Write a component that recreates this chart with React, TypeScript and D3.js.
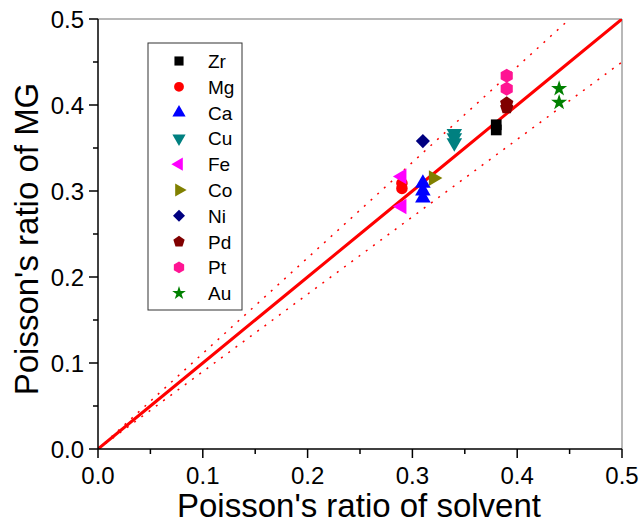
import React from "react";
import * as d3 from "d3";

// element -> [solvent ratio, MG ratio] pairs
const elements = ["Zr", "Mg", "Ca", "Cu", "Fe", "Co", "Ni", "Pd", "Pt", "Au"];
const colors = ["#000000", "#ff0000", "#0000ff", "#008080", "#ff00ff", "#808000", "#000080", "#800000", "#ff1493", "#008000"];

const zrPts = [[0.38, 0.377], [0.38, 0.371]];
const mgPts = [[0.29, 0.309], [0.29, 0.303]];
const caPts = [[0.31, 0.309], [0.31, 0.3], [0.31, 0.292]];
const cuPts = [[0.34, 0.367], [0.34, 0.362], [0.34, 0.356]];
const fePts = [[0.29, 0.317], [0.29, 0.282]];
const coPts = [[0.32, 0.315]];
const niPts = [[0.31, 0.358]];
const pdPts = [[0.39, 0.402], [0.39, 0.397]];
const ptPts = [[0.39, 0.434], [0.39, 0.419]];
const auPts = [[0.44, 0.419], [0.44, 0.403]];
const series = [zrPts, mgPts, caPts, cuPts, fePts, coPts, niPts, pdPts, ptPts, auPts];

const xTicks = [0, 0.1, 0.2, 0.3, 0.4, 0.5];
const yTicks = [0, 0.1, 0.2, 0.3, 0.4, 0.5];
const minorTicks = [0.05, 0.15, 0.25, 0.35, 0.45];
// reference lines y = k * x
const bandSlopes = [1 / 0.9, 0.9];

const W = 642, H = 526;
const margin = { top: 19, right: 20, bottom: 77, left: 98 };

function polygon(n: number, r: number, rot: number) {
  const pts = d3.range(n).map((i) => {
    const a = rot + (i * 2 * Math.PI) / n;
    return [r * Math.cos(a), r * Math.sin(a)];
  });
  return "M" + pts.map((p) => p.join(",")).join("L") + "Z";
}

function markerPath(i: number) {
  const tri = d3.symbol().type(d3.symbolTriangle).size(105)()!;
  switch (i) {
    case 0: return { d: d3.symbol().type(d3.symbolSquare).size(115)()!, rot: 0 };
    case 1: return { d: d3.symbol().type(d3.symbolCircle).size(105)()!, rot: 0 };
    case 2: return { d: tri, rot: 0 };
    case 3: return { d: tri, rot: 180 };
    case 4: return { d: tri, rot: -90 };
    case 5: return { d: tri, rot: 90 };
    case 6: return { d: d3.symbol().type(d3.symbolSquare).size(100)()!, rot: 45 };
    case 7: return { d: polygon(5, 7, -Math.PI / 2), rot: 0 };
    case 8: return { d: polygon(6, 7, -Math.PI / 2), rot: 0 };
    default: return { d: d3.symbol().type(d3.symbolStar).size(80)()!, rot: 0 };
  }
}

export default function App() {
  const iw = W - margin.left - margin.right;
  const ih = H - margin.top - margin.bottom;
  const x = d3.scaleLinear().domain([0, 0.5]).range([0, iw]);
  const y = d3.scaleLinear().domain([0, 0.5]).range([ih, 0]);
  const font = "Arial, 'Liberation Sans', sans-serif";

  const xs = d3.range(0, 0.5001, 0.05);

  return (
    <svg width={W} height={H} style={{ position: "absolute", left: 0, top: 0, background: "#fff" }} fontFamily={font}>
      <defs>
        <clipPath id="plot">
          <rect x={0} y={0} width={iw} height={ih} />
        </clipPath>
      </defs>
      <g transform={`translate(${margin.left},${margin.top})`}>
        {/* frame */}
        <line x1={0} y1={0} x2={iw} y2={0} stroke="#a0a0a0" strokeWidth={1.5} />
        <line x1={iw} y1={0} x2={iw} y2={ih} stroke="#a0a0a0" strokeWidth={1.5} />

        <g clipPath="url(#plot)">
          {bandSlopes.map((k, i) => (
            <path
              key={i}
              d={d3.line<number>().x((d) => x(d)).y((d) => y(d * k))(xs)!}
              fill="none"
              stroke="#ff0000"
              strokeWidth={1.5}
              strokeDasharray="2 7"
            />
          ))}
          <path d={d3.line<number>().x((d) => x(d)).y((d) => y(d))(xs)!} fill="none" stroke="#ff0000" strokeWidth={3} />
        </g>

        {/* axes */}
        <line x1={0} y1={ih} x2={iw} y2={ih} stroke="#000" strokeWidth={1.5} />
        <line x1={0} y1={0} x2={0} y2={ih} stroke="#000" strokeWidth={1.5} />
        {xTicks.map((t) => (
          <g key={"x" + t}>
            <line x1={x(t)} x2={x(t)} y1={ih} y2={ih + 9} stroke="#000" strokeWidth={1.5} />
            <text x={x(t)} y={ih + 35} textAnchor="middle" fontSize={24}>{t.toFixed(1)}</text>
          </g>
        ))}
        {minorTicks.map((t) => (
          <line key={"xm" + t} x1={x(t)} x2={x(t)} y1={ih} y2={ih + 5} stroke="#000" strokeWidth={1.5} />
        ))}
        {yTicks.map((t) => (
          <g key={"y" + t}>
            <line x1={-9} x2={0} y1={y(t)} y2={y(t)} stroke="#000" strokeWidth={1.5} />
            <text x={-14} y={y(t) + 8.5} textAnchor="end" fontSize={24}>{t.toFixed(1)}</text>
          </g>
        ))}
        {minorTicks.map((t) => (
          <line key={"ym" + t} x1={-5} x2={0} y1={y(t)} y2={y(t)} stroke="#000" strokeWidth={1.5} />
        ))}

        {/* data */}
        {series.map((pts, i) => {
          const m = markerPath(i);
          return pts.map((p, j) => (
            <path
              key={i + "-" + j}
              d={m.d}
              fill={colors[i]}
              transform={`translate(${x(p[0])},${y(p[1])}) rotate(${m.rot})`}
            />
          ));
        })}

        {/* legend */}
        <rect x={50} y={24} width={94} height={267} fill="#fff" stroke="#333" strokeWidth={1} />
        {elements.map((e, i) => {
          const m = markerPath(i);
          const ly = 42 + i * 25.8;
          return (
            <g key={e}>
              <path d={m.d} fill={colors[i]} transform={`translate(81,${ly}) rotate(${m.rot}) scale(0.85)`} />
              <text x={110} y={ly + 7} fontSize={19}>{e}</text>
            </g>
          );
        })}
      </g>

      <text x={359} y={517} textAnchor="middle" fontSize={33}>Poisson's ratio of solvent</text>
      <text transform="translate(38,239) rotate(-90)" textAnchor="middle" fontSize={33}>Poisson's ratio of MG</text>
    </svg>
  );
}
